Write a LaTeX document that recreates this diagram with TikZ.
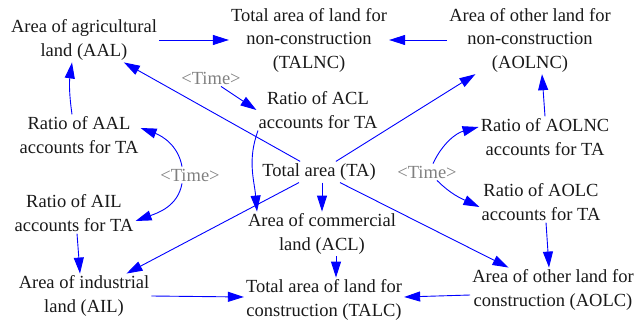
\documentclass[tikz,border=0pt]{standalone}
\usepackage{fontspec}
\setmainfont{Liberation Serif}
\newfontfamily\tnr{Liberation Serif}
\usetikzlibrary{arrows.meta}
\begin{document}
\begin{tikzpicture}[x=1pt,y=1pt,
  lbl/.style={align=center,inner sep=2pt,font=\tnr\fontsize{18.5}{23.5}\selectfont,text=black!90},
  tm/.style={lbl,text=black!50},
  conn/.style={draw=blue,line width=0.9pt,-{Triangle[length=16pt,width=10pt]}}]
\useasboundingbox (0,0) rectangle (636,-323);
% nodes
\node[lbl] (AAL)    at (84,-40)  {Area of agricultural\\land (AAL)};
\node[lbl] (TALNC)  at (309,-40) {Total area of land for\\non-construction\\(TALNC)};
\node[lbl] (AOLNC)  at (530,-40) {Area of other land for\\non-construction\\(AOLNC)};
\node[tm]  (Ttop)   at (211,-78) {<Time>};
\node[lbl] (RACL)   at (318,-110) {Ratio of ACL\\accounts for TA};
\node[lbl] (RAAL)   at (79,-135) {Ratio of AAL\\accounts for TA};
\node[lbl] (RAOLNC) at (545,-137) {Ratio of AOLNC\\accounts for TA};
\node[lbl] (TA)     at (319,-172) {Total area (TA)};
\node[tm]  (Tleft)  at (190,-175) {<Time>};
\node[tm]  (Tright) at (427,-172) {<Time>};
\node[lbl] (RAIL)   at (74,-213) {Ratio of AIL\\accounts for TA};
\node[lbl] (RAOLC)  at (541,-202) {Ratio of AOLC\\accounts for TA};
\node[lbl] (ACL)    at (322,-234) {Area of commercial\\land (ACL)};
\node[lbl] (AIL)    at (84,-296) {Area of industrial\\land (AIL)};
\node[lbl] (TALC)   at (324,-300) {Total area of land for\\construction (TALC)};
\node[lbl] (AOLC)   at (553,-290) {Area of other land for\\construction (AOLC)};
% connectors
\draw[conn] (AAL.east) -- (TALNC.west |- AAL.east);
\draw[conn] (AOLNC.west) -- (TALNC.east |- AOLNC.west);
\draw[conn] ([xshift=-7pt]RAAL.north) to[bend left=8] ([xshift=-12pt]AAL.south);
\draw[conn] (TA) -- (AAL);
\draw[conn] ([xshift=10pt]Ttop.south) -- (RACL.west);
\draw[conn] ([xshift=-60pt]RACL.south) to[out=-110,in=95] ([xshift=-65pt]ACL.north);
\draw[conn] (TA) -- (AOLNC);
\draw[conn] (RAOLNC.north) -- ([xshift=12pt]AOLNC.south);
\draw[conn] ([xshift=6pt]Tright.north) to[out=65,in=195] ([yshift=10pt]RAOLNC.west);
\draw[conn] ([xshift=10pt]Tright.south) to[out=-45,in=155] ([yshift=-5pt]RAOLC.west);
\draw[conn] ([xshift=-8pt]Tleft.north) to[out=100,in=-20] ([yshift=7pt]RAAL.east);
\draw[conn] ([xshift=-8pt]Tleft.south) to[out=-100,in=20] ([yshift=-8pt]RAIL.east);
\draw[conn] ([xshift=3pt]TA.south) -- (ACL.north);
\draw[conn] (TA) -- (AIL);
\draw[conn] (TA) -- (AOLC);
\draw[conn] ([xshift=3pt]RAIL.south) -- ([xshift=-4pt]AIL.north);
\draw[conn] ([xshift=5pt]RAOLC.south) -- ([xshift=-4pt]AOLC.north);
\draw[conn] ([xshift=14pt]ACL.south) -- ([xshift=12pt]TALC.north);
\draw[conn] (AIL.east) -- ([yshift=3pt]TALC.west);
\draw[conn] ([yshift=-5pt]AOLC.west) -- ([yshift=3pt]TALC.east);
\end{tikzpicture}
\end{document}
